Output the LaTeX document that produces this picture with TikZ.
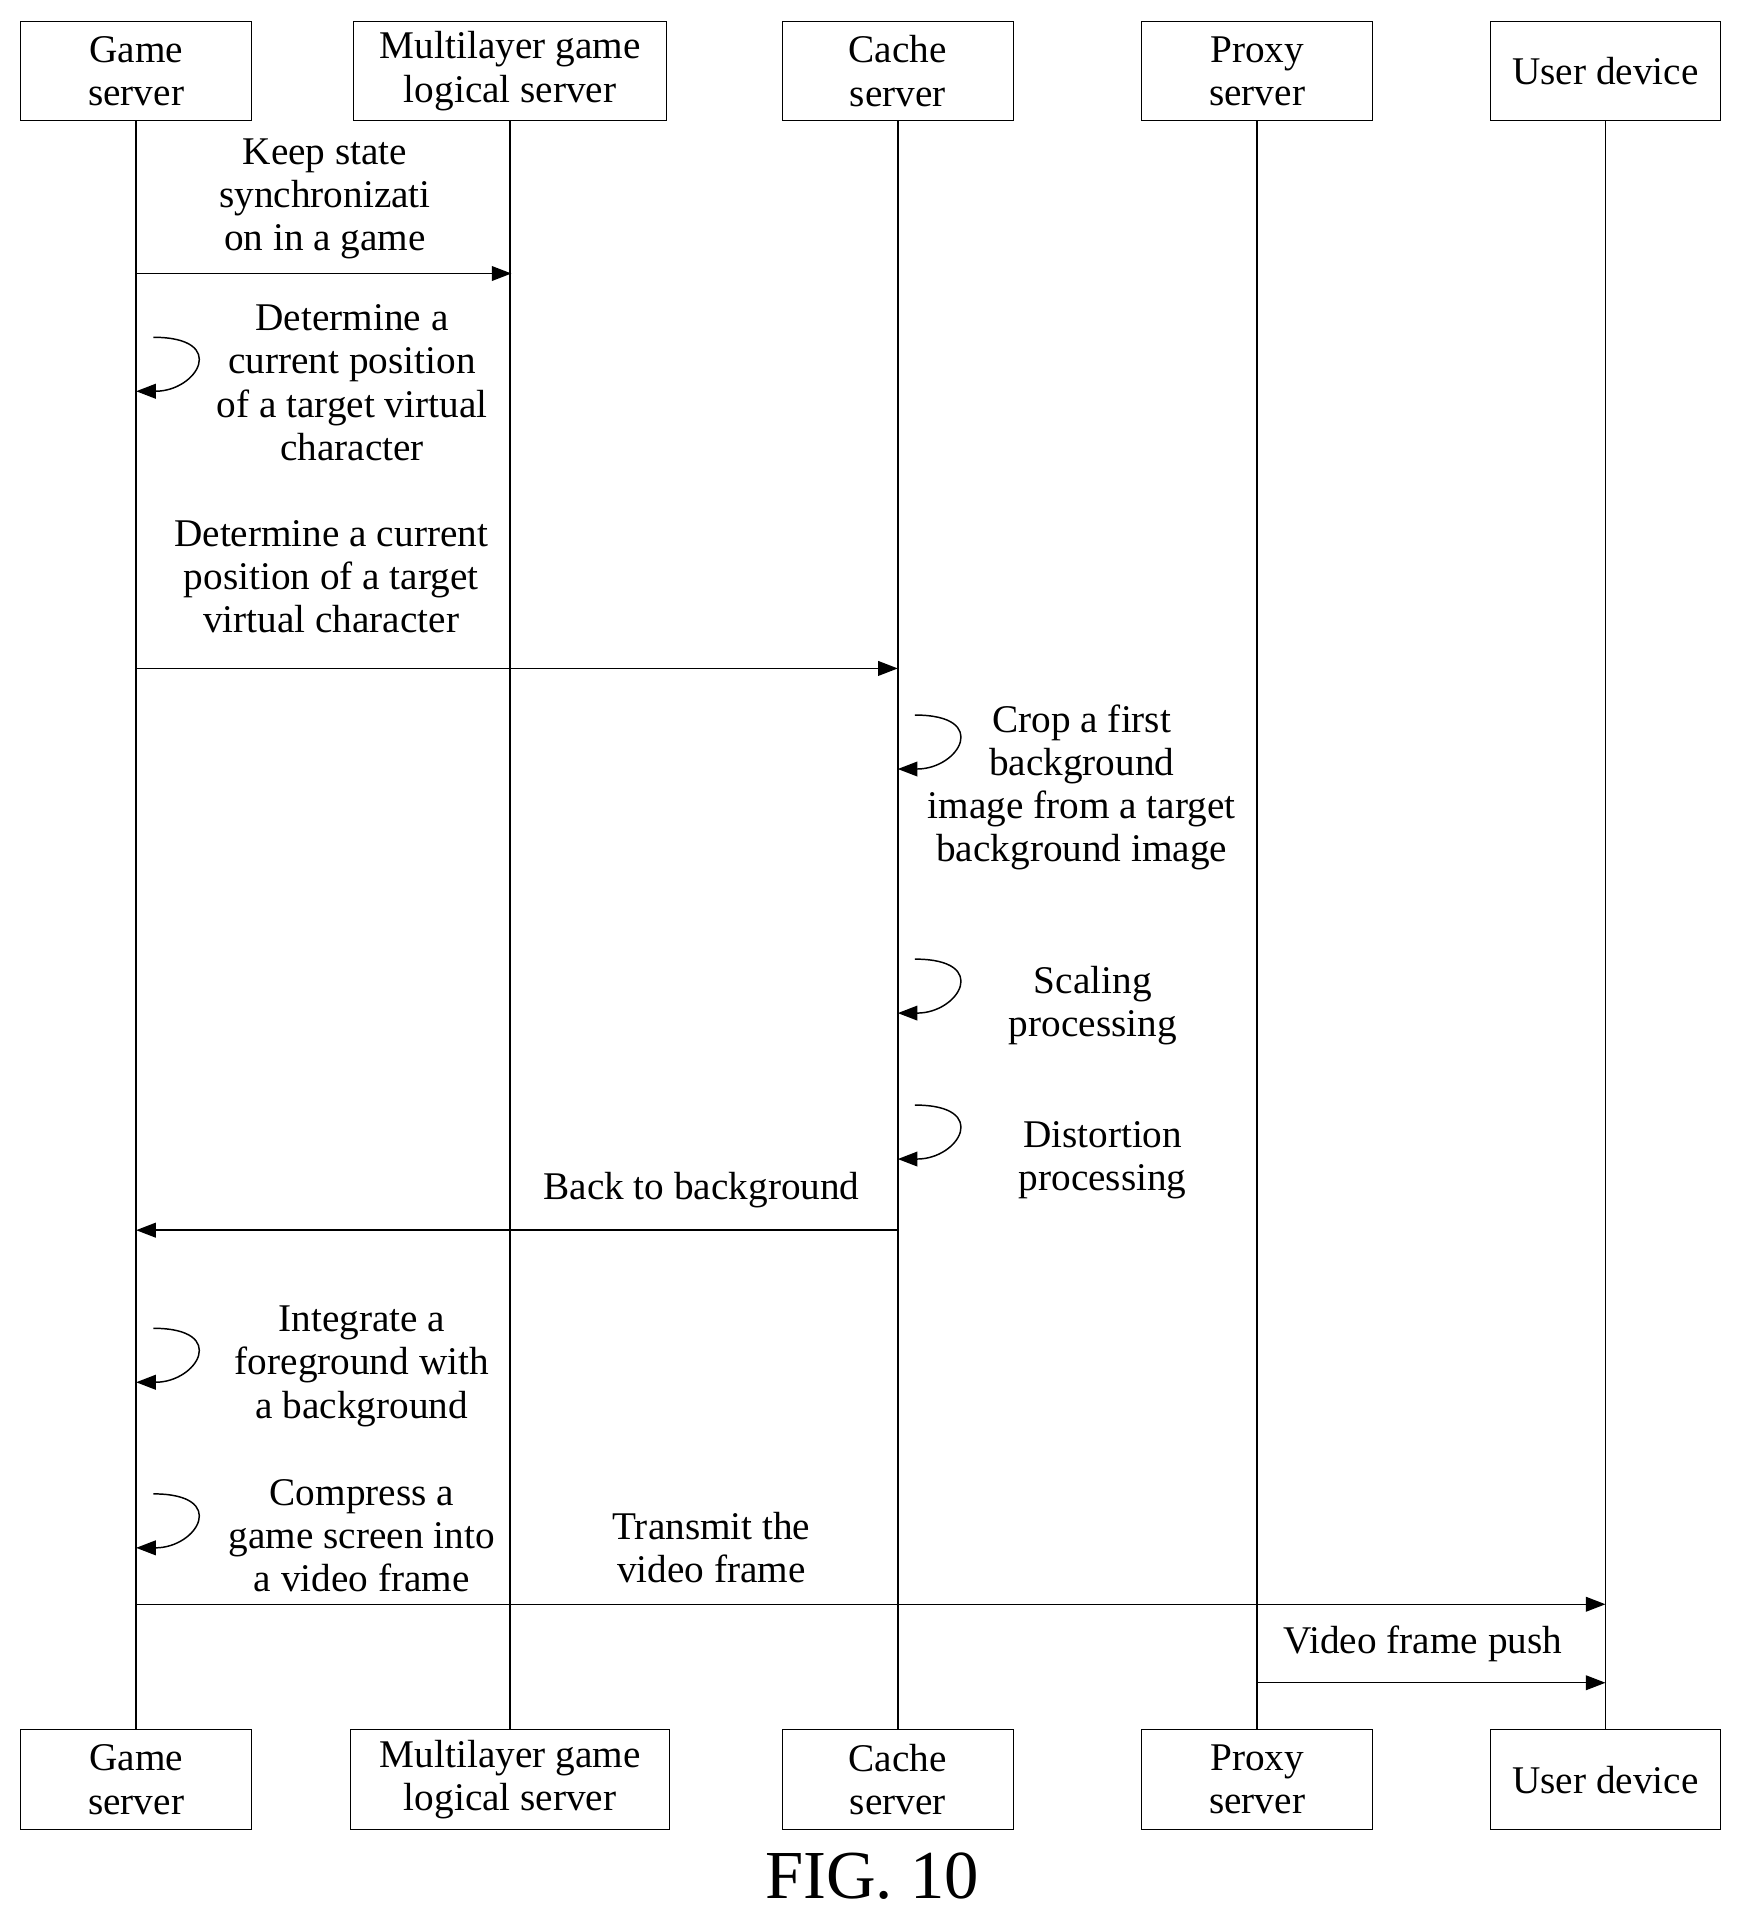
\documentclass[tikz,border=0pt]{standalone}
\usepackage{fontspec}
\setmainfont{Liberation Serif}
\usetikzlibrary{arrows.meta}
\begin{document}
\begin{tikzpicture}[x=0.5pt,y=-0.5pt,font=\fontsize{16}{17.6}\selectfont]
    % `party' is used for the boxes at both ends of a lifeline.
    % `msg' is used for every arrow, `note' for its text.
    \tikzstyle{party} = [draw,fill=white,minimum height=40.5pt,align=center,inner sep=1pt]
    \tikzstyle{msg} = [-{Triangle[length=8pt,width=6pt]},semithick]
    \tikzstyle{note} = [align=center,inner sep=0pt]
    \useasboundingbox (0,0) rectangle (1416,1563);
    %
    \foreach \n/\x/\w/\wb/\t in {gs/111/94/94/{Game\\server},
        ml/416/127.5/130/{Multilayer game\\logical server},
        cs/732/94/94/{Cache\\server},
        ps/1025/94/94/{Proxy\\server},
        ud/1309/94/94/{User device}} {
      \node[party,minimum width=\w pt] (\n top) at (\x,58) {\t};
      \node[party,minimum width=\wb pt] (\n bot) at (\x,1451) {\t};
      \draw[semithick] (\n top) -- (\n bot);
    }
    % Messages between lifelines.
    \coordinate (a1) at (111,223);  \coordinate (b1) at (417,223);
    \coordinate (a2) at (111,545);  \coordinate (b2) at (732,545);
    \coordinate (a3) at (732,1003); \coordinate (b3) at (111,1003);
    \coordinate (a4) at (111,1308); \coordinate (b4) at (1309,1308);
    \coordinate (a5) at (1025,1372);\coordinate (b5) at (1309,1372);
    \foreach \a/\b in {a1/b1,a2/b2,a3/b3,a4/b4,a5/b5}
      \draw[msg] (\a) -- (\b);
    % Self messages.
    \foreach \i/\x/\y in {1/111/275,2/732/583,3/732/782,4/732/901,5/111/1083,6/111/1218} {
      \coordinate (s\i) at (\x+14,\y);
      \coordinate (e\i) at (\x,\y+44);
      \draw[msg] (s\i) .. controls +(62,0) and +(50,0) .. (e\i);
    }
    % Labels.
    \node[note] (l1) at (265,162) {Keep state\\synchronizati\\on in a game};
    \node[note] (l2) at (287,312) {Determine a\\current position\\of a target virtual\\character};
    \node[note] (l3) at (270,470) {Determine a current\\position of a target\\virtual character};
    \node[note] (l4) at (882,642) {Crop a first\\background\\image from a target\\background image};
    \node[note] (l5) at (891,820) {Scaling\\processing};
    \node[note] (l6) at (899,946) {Distortion\\processing};
    \node[note] (l7) at (572,970) {Back to background};
    \node[note] (l8) at (295,1114) {Integrate a\\foreground with\\a background};
    \node[note] (l9) at (295,1252) {Compress a\\game screen into\\a video frame};
    \node[note] (l10) at (580,1262) {Transmit the\\video frame};
    \node[note] (l11) at (1160,1340) {Video frame push};
    \node[font=\fontsize{28}{30}\selectfont] (fig) at (711,1530) {FIG. 10};
\end{tikzpicture}
\end{document}
